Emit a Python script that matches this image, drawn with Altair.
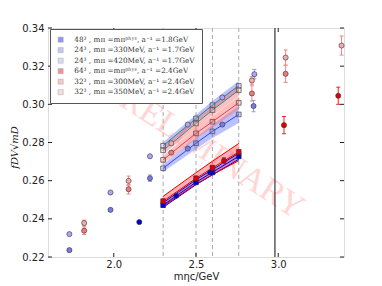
import altair as alt
import pandas as pd

# ---------------- data ----------------
series_names = [
    "48³ , mπ =mπᵖʰʸˢ, a⁻¹ =1.8GeV",
    "24³ , mπ =330MeV, a⁻¹ =1.7GeV",
    "24³ , mπ =420MeV, a⁻¹ =1.7GeV",
    "64³ , mπ =mπᵖʰʸˢ, a⁻¹ =2.4GeV",
    "32³ , mπ =300MeV, a⁻¹ =2.4GeV",
    "32³ , mπ =350MeV, a⁻¹ =2.4GeV",
]
series_colors = ["#0000dd", "#7a7ae6", "#a9a9f5", "#dd0000", "#ee7b7b", "#f3aaaa"]
errbar_colors = ["#2222ee", "#9999ee", "#9999ee", "#ee2222", "#f08888", "#f08888"]

# circles (individual data points)
c48_x = [2.155, 2.38, 2.585]
c48_y = [0.2383, 0.2521, 0.2643]
c48_e = [0.0007, 0.0008, 0.0009]
c330_x = [1.73, 1.98, 2.22, 2.45, 2.66, 2.85]
c330_y = [0.2236, 0.2447, 0.2613, 0.2768, 0.2894, 0.2991]
c330_e = [0.0008, 0.0010, 0.0017, 0.0010, 0.0010, 0.0030]
c420_x = [1.73, 1.98, 2.22, 2.45, 2.66, 2.855]
c420_y = [0.2320, 0.2538, 0.2728, 0.2894, 0.3036, 0.3158]
c420_e = [0.0006, 0.0008, 0.0010, 0.0010, 0.0010, 0.0025]
c64_x = [2.67, 3.035, 3.365]
c64_y = [0.2705, 0.2891, 0.3045]
c64_e = [0.0015, 0.0045, 0.0045]
c300_x = [1.82, 2.09, 2.35, 2.84, 3.045]
c300_y = [0.2338, 0.2555, 0.2747, 0.3057, 0.3160]
c300_e = [0.0020, 0.0025, 0.0010, 0.0040, 0.0045]
c350_x = [1.82, 2.09, 2.35, 2.84, 3.045, 3.385]
c350_y = [0.2378, 0.2599, 0.2796, 0.3125, 0.3245, 0.3308]
c350_e = [0.0015, 0.0025, 0.0010, 0.0020, 0.0040, 0.0050]

# fit positions (dashed lines) and fitted squares / bands
fit_x = [2.3, 2.5, 2.6, 2.76]
f48_c = [0.2472, 0.2592, 0.2644, 0.2728]
f48_h = [0.0012, 0.0013, 0.0014, 0.0016]
f330_c = [0.2665, 0.2796, 0.2858, 0.2947]
f330_h = [0.0020, 0.0030, 0.0035, 0.0045]
f420_c = [0.2783, 0.2926, 0.2996, 0.3097]
f420_h = [0.0018, 0.0020, 0.0022, 0.0025]
f64_c = [0.2492, 0.2612, 0.2667, 0.2750]
f64_h = [0.0026, 0.0030, 0.0035, 0.0045]
f300_c = [0.2709, 0.2848, 0.2909, 0.3008]
f300_h = [0.0020, 0.0028, 0.0030, 0.0035]
f350_c = [0.2759, 0.2900, 0.2970, 0.3074]
f350_h = [0.0020, 0.0025, 0.0028, 0.0030]

threshold_x = [2.98]
y_ticks = [0.22, 0.24, 0.26, 0.28, 0.30, 0.32, 0.34]
x_ticks = [2.0, 2.5, 3.0]
x_dom = [1.6, 3.4]
y_dom = [0.22, 0.34]
wm_x = [2.55]
wm_y = [0.2769]
wm_text = ["PRELIMINARY"]

# ---------------- tables ----------------
circ_rows = []
for i, (xs_, ys_, es_) in enumerate([
    (c48_x, c48_y, c48_e), (c330_x, c330_y, c330_e), (c420_x, c420_y, c420_e),
    (c64_x, c64_y, c64_e), (c300_x, c300_y, c300_e), (c350_x, c350_y, c350_e)]):
    for x, y, e in zip(xs_, ys_, es_):
        circ_rows.append(dict(series=series_names[i], x=x, y=y, lo=y - e, hi=y + e,
                              ecol=errbar_colors[i]))
circ = pd.DataFrame(circ_rows)

fits = [
    (0, f48_c, f48_h, "#4a5cff", "#0000ee", True),
    (1, f330_c, f330_h, "#5a6cff", "#3344dd", False),
    (2, f420_c, f420_h, "#5a6cff", "#2e8b7a", False),
    (3, f64_c, f64_h, "#ff4444", "#ee0000", True),
    (4, f300_c, f300_h, "#ff6666", "#dd4455", False),
    (5, f350_c, f350_h, "#ff6666", "#2e8b7a", False),
]
fit_rows = []
for i, cs, hs, bcol, lcol, lower in fits:
    for x, c, h in zip(fit_x, cs, hs):
        fit_rows.append(dict(series=series_names[i], fit=str(i), x=x, c=c, lo=c - h, hi=c + h,
                             bandcol=bcol, linecol=lcol, lower=lower,
                             elo=c - 0.0012, ehi=c + 0.0012, ecol=errbar_colors[i]))
fitdf = pd.DataFrame(fit_rows)
fit_upper = fitdf[~fitdf.lower]
fit_lower = fitdf[fitdf.lower]

dx = (x_dom[1] - x_dom[0]) * 4 / 296
dy = (y_dom[1] - y_dom[0]) * 4 / 229
ytick_df = pd.DataFrame(
    [dict(x=x_dom[0], x2=x_dom[0] + dx, y=v) for v in y_ticks] +
    [dict(x=x_dom[1] - dx, x2=x_dom[1], y=v) for v in y_ticks])
xtick_df = pd.DataFrame(
    [dict(x=v, y=y_dom[0], y2=y_dom[0] + dy) for v in x_ticks] +
    [dict(x=v, y=y_dom[1] - dy, y2=y_dom[1]) for v in x_ticks])

xs = alt.Scale(domain=x_dom, nice=False, zero=False)
ys = alt.Scale(domain=y_dom, nice=False, zero=False)
x_axis = alt.Axis(values=x_ticks, format=".1f", ticks=False, domain=False, grid=False,
                  labelFont="DejaVu Sans", labelFontSize=10, labelColor="#222",
                  labelPadding=2, labelOverlap=False, title="mηc/GeV",
                  titleFont="DejaVu Sans", titleFontSize=10, titleFontWeight="normal",
                  titleColor="#222", titleY=19, titleBaseline="middle")
y_axis = alt.Axis(values=y_ticks, format=".2f", ticks=False, domain=False, grid=False,
                  labelFont="DejaVu Sans", labelFontSize=10, labelColor="#222",
                  labelPadding=4, labelOverlap=False, title="fDV√mD",
                  titleFont="DejaVu Serif", titleFontStyle="italic", titleFontSize=10,
                  titleFontWeight="normal", titleColor="#222", titleAngle=270,
                  titleX=-34, titleY=119, titleAlign="center", titleBaseline="middle")


def EX(field):
    return alt.X(field, type="quantitative", scale=xs, axis=x_axis)


def EY(field):
    return alt.Y(field, type="quantitative", scale=ys, axis=y_axis)


color_scale = alt.Scale(domain=series_names, range=series_colors)

wm = alt.Chart(pd.DataFrame(dict(x=wm_x, y=wm_y, t=wm_text))).mark_text(
    font="Liberation Serif", fontSize=34, angle=33, color="#ffd6d6"
).encode(x=EX("x"), y=EY("y"), text="t:N")

vlines = alt.Chart(pd.DataFrame(dict(x=fit_x))).mark_rule(
    color="#aaaaaa", strokeDash=[4, 3], strokeWidth=1).encode(x=EX("x"))
solid = alt.Chart(pd.DataFrame(dict(x=threshold_x))).mark_rule(
    color="#333333", strokeWidth=1.2).encode(x=EX("x"))

bands = alt.Chart(fitdf).mark_area(opacity=0.42).encode(
    x=EX("x"), y=EY("lo"), y2="hi:Q",
    color=alt.Color("bandcol:N", scale=None), detail="fit:N")
edge_lo = alt.Chart(fit_lower).mark_line(strokeWidth=1).encode(
    x=EX("x"), y=EY("lo"), color=alt.Color("linecol:N", scale=None), detail="fit:N")
edge_hi = alt.Chart(fit_lower).mark_line(strokeWidth=1).encode(
    x=EX("x"), y=EY("hi"), color=alt.Color("linecol:N", scale=None), detail="fit:N")
center = alt.Chart(fitdf).mark_line(strokeWidth=1).encode(
    x=EX("x"), y=EY("c"), color=alt.Color("linecol:N", scale=None), detail="fit:N")


def errbars(df):
    bar = alt.Chart(df).mark_rule(strokeWidth=1).encode(
        x=EX("x"), y=EY("lo"), y2="hi:Q", color=alt.Color("ecol:N", scale=None))
    cap1 = alt.Chart(df).mark_point(shape="stroke", size=16, filled=False, strokeWidth=1,
                                    opacity=1).encode(
        x=EX("x"), y=EY("lo"), color=alt.Color("ecol:N", scale=None))
    cap2 = alt.Chart(df).mark_point(shape="stroke", size=16, filled=False, strokeWidth=1,
                                    opacity=1).encode(
        x=EX("x"), y=EY("hi"), color=alt.Color("ecol:N", scale=None))
    return bar + cap1 + cap2


big_err = circ[(circ.hi - circ.lo) > 0.0025]
err_layer = errbars(big_err)
fit_err = fitdf[["x", "elo", "ehi", "ecol"]].rename(columns={"elo": "lo", "ehi": "hi"})
fit_err_layer = errbars(fit_err[fitdf.lower.values])

circles = alt.Chart(circ).mark_point(
    filled=True, shape="circle", size=26, opacity=1, stroke="#333333", strokeWidth=0.6
).encode(
    x=EX("x"), y=EY("y"),
    color=alt.Color("series:N", scale=color_scale, sort=series_names,
                    legend=alt.Legend(title=None, orient="none", legendX=2, legendY=1,
                                      symbolType="square", symbolSize=26,
                                      symbolStrokeColor="#333333", symbolStrokeWidth=0.5,
                                      labelFont="DejaVu Serif", labelFontSize=7.3,
                                      labelColor="#333", labelOffset=10, rowPadding=1.5,
                                      padding=7, fillColor="white", strokeColor="#555555",
                                      labelLimit=220)))

sq_up = alt.Chart(fit_upper).mark_point(
    filled=True, shape="square", size=22, fillOpacity=0.3, stroke="#555555",
    strokeWidth=0.8, strokeOpacity=1
).encode(x=EX("x"), y=EY("c"),
         color=alt.Color("series:N", scale=color_scale, legend=None))
sq_lo = alt.Chart(fit_lower).mark_point(
    filled=True, shape="square", size=24, opacity=1, stroke="#333333", strokeWidth=0.5
).encode(x=EX("x"), y=EY("c"),
         color=alt.Color("series:N", scale=color_scale, legend=None))

yt = alt.Chart(ytick_df).mark_rule(color="#222", strokeWidth=1).encode(
    x=EX("x"), x2="x2:Q", y=EY("y"))
xt = alt.Chart(xtick_df).mark_rule(color="#222", strokeWidth=1).encode(
    x=EX("x"), y=EY("y"), y2="y2:Q")

chart = alt.layer(
    wm, vlines, solid, bands, edge_lo, edge_hi, center,
    err_layer, fit_err_layer, circles, sq_up, sq_lo, yt, xt
).properties(
    width=296, height=229,
    padding={"left": 40, "top": 20, "right": 30, "bottom": 28},
    autosize=alt.AutoSizeParams(type="none"),
).configure_view(stroke="#222222", strokeWidth=1.2).configure(background="white")

chart.save("out.html", embed_options={"renderer": "svg", "actions": False})
